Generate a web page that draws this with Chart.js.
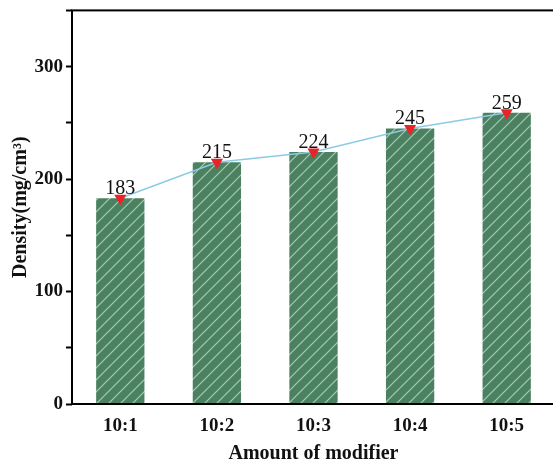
<!DOCTYPE html>
<html>
<head>
<meta charset="utf-8">
<script src="https://cdn.jsdelivr.net/npm/chart.js@4/dist/chart.umd.min.js"></script>
<style>
  html, body { margin: 0; padding: 0; background: #fff; overflow: hidden; }
  #wrap { width: 562px; height: 470px; margin-top: -4px; }
</style>
</head>
<body>
<div id="wrap"><canvas id="chart"></canvas></div>
<script>
const categories = ['10:1', '10:2', '10:3', '10:4', '10:5'];
const density = [183, 215, 224, 245, 259];
const yTicks = [0, 100, 200, 300];

const serif = "'Liberation Serif', 'Times New Roman', serif";

function hatch() {
  const c = document.createElement('canvas');
  c.width = 12;
  c.height = 12;
  const g = c.getContext('2d');
  g.fillStyle = '#4b8160';
  g.fillRect(0, 0, 12, 12);
  g.strokeStyle = 'rgba(210, 235, 215, 0.7)';
  g.lineWidth = 1.2;
  g.beginPath();
  g.moveTo(-3, 15); g.lineTo(15, -3);
  g.moveTo(-3, 3); g.lineTo(3, -3);
  g.moveTo(9, 15); g.lineTo(15, 9);
  g.stroke();
  return g.createPattern(c, 'repeat');
}

const frame = {
  id: 'frame',
  afterDatasetsDraw(chart) {
    const { ctx, chartArea: a } = chart;
    ctx.save();
    ctx.strokeStyle = '#000';
    ctx.lineWidth = 2;
    ctx.strokeRect(a.left, a.top, a.right - a.left, a.bottom - a.top);
    ctx.restore();
  }
};

const valueLabels = {
  id: 'valueLabels',
  afterDatasetsDraw(chart) {
    const { ctx } = chart;
    const meta = chart.getDatasetMeta(1);
    ctx.save();
    ctx.font = '20px ' + serif;
    ctx.fillStyle = '#111';
    ctx.textAlign = 'center';
    ctx.textBaseline = 'alphabetic';
    meta.data.forEach((pt, i) => {
      ctx.fillText(String(density[i]), pt.x, pt.y - 4);
    });
    ctx.restore();
  }
};

new Chart(document.getElementById('chart'), {
  data: {
    labels: categories,
    datasets: [
      {
        type: 'bar',
        data: density,
        backgroundColor: hatch(),
        borderWidth: 0,
        barPercentage: 0.5,
        categoryPercentage: 1,
        order: 2
      },
      {
        type: 'line',
        data: density,
        borderColor: '#8ccbe6',
        borderWidth: 1.5,
        pointStyle: 'triangle',
        rotation: 180,
        pointRadius: 7,
        pointBackgroundColor: '#ec2229',
        pointBorderColor: '#ec2229',
        pointBorderWidth: 0,
        order: 1
      }
    ]
  },
  options: {
    responsive: true,
    maintainAspectRatio: false,
    animation: false,
    layout: { padding: { top: 0, right: 2, left: 1, bottom: 0 } },
    plugins: {
      legend: { display: false },
      tooltip: { enabled: false }
    },
    scales: {
      x: {
        grid: { display: false, drawTicks: false },
        border: { display: false },
        ticks: {
          color: '#111',
          padding: 11,
          font: { family: serif, size: 19, weight: 'bold' }
        },
        title: {
          display: true,
          text: 'Amount of modifier',
          color: '#111',
          padding: { top: 10, bottom: 0 },
          font: { family: serif, size: 20, weight: 'bold' }
        },
        afterFit(scale) { scale.height = 62; }
      },
      y: {
        min: 0,
        max: 350,
        grid: {
          drawOnChartArea: false,
          drawTicks: true,
          tickLength: 6,
          tickWidth: 2,
          color: '#000'
        },
        border: { display: false },
        ticks: {
          stepSize: 50,
          color: '#111',
          padding: 3,
          font: { family: serif, size: 19, weight: 'bold' },
          callback: v => yTicks.includes(v) ? String(v) : ''
        },
        title: {
          display: true,
          text: 'Density(mg/cm³)',
          color: '#111',
          padding: { top: 8, bottom: 0 },
          font: { family: serif, size: 20, weight: 'bold' }
        },
        afterFit(scale) { scale.width = 71; }
      }
    }
  },
  plugins: [frame, valueLabels]
});
</script>
</body>
</html>
